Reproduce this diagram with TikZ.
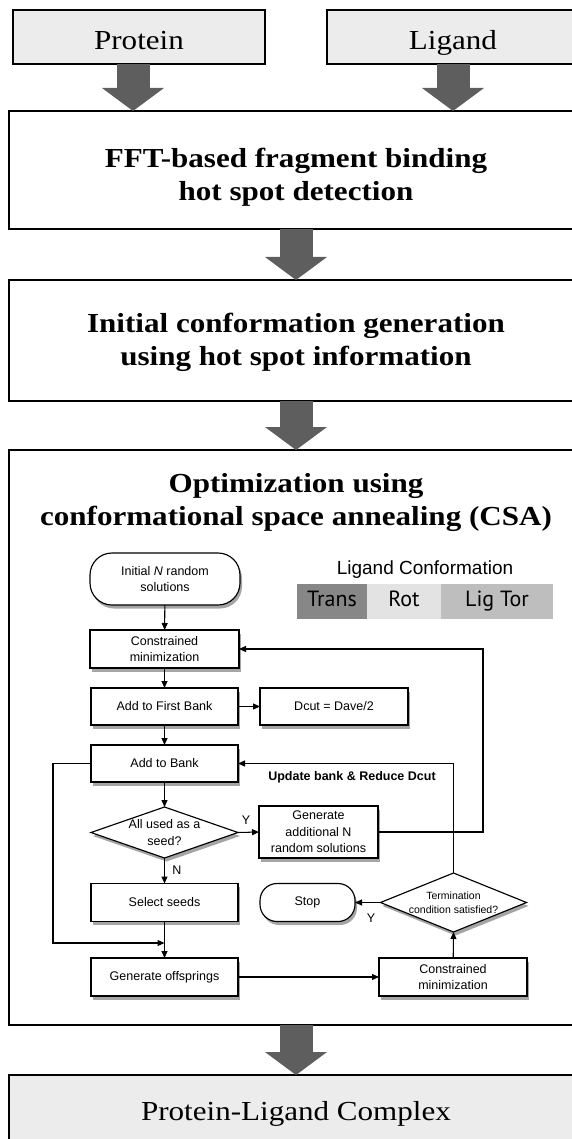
\documentclass[tikz,border=0pt]{standalone}
\usepackage{fontspec}
\usetikzlibrary{arrows.meta,shadows}
\newfontfamily\tnr[FakeStretch=1.13]{Liberation Serif}
\newfontfamily\arl{Liberation Sans}
\newfontfamily\pts{PT Sans}
\definecolor{boxgray}{HTML}{ECECEC}
\definecolor{arrowgray}{HTML}{5E5E5E}
\definecolor{transc}{HTML}{878787}
\definecolor{rotc}{HTML}{E3E3E3}
\definecolor{ligtorc}{HTML}{BEBEBE}
\begin{document}
\begin{tikzpicture}[x=1pt,y=-1pt,
  mainbox/.style={draw, line width=1.4pt, inner sep=0pt, outer sep=0pt, align=center},
  bigtext/.style={font=\tnr\fontsize{27.5}{33}\selectfont\bfseries, align=center},
  plaintext/.style={font=\tnr\fontsize{27.5}{33}\selectfont, align=center, text height=32pt, text depth=6pt},
  bigarrow/.style={draw=arrowgray, line width=33pt, -{Triangle[length=23pt,width=62pt,line width=0pt]}},
  fcshape/.style={draw, line width=1.15pt, fill=white, drop shadow={shadow xshift=2pt, shadow yshift=-3.5pt, opacity=0.7}},
  fcbox/.style={fcshape, inner sep=0pt, outer sep=0pt, align=center, font=\arl\fontsize{12.5}{16.5}\selectfont},
  fctext/.style={inner sep=0pt, outer sep=0pt, align=center, font=\arl\fontsize{12.5}{16.5}\selectfont},
  fcarrow/.style={line width=1.05pt, -{Triangle[length=7pt,width=6pt]}},
  barseg/.style={inner sep=0pt, outer sep=0pt, minimum height=35pt, text height=15pt, text depth=5pt, font=\pts\fontsize{22}{24}\selectfont}
]
\useasboundingbox (0,0) rectangle (572,1139);
\clip (0,0) rectangle (572,1139);

% ---------- main boxes ----------
\node[mainbox, fill=boxgray, minimum width=252pt, minimum height=54pt, plaintext] (protein) at (139,37) {Protein};
\node[mainbox, fill=boxgray, minimum width=252pt, minimum height=54pt, plaintext] (ligand) at (453,37) {Ligand};
\node[mainbox, fill=white, minimum width=574pt, minimum height=118pt] (fft) at (296,170) {};
\node[bigtext] (ffttext) at (296,177) {FFT-based fragment binding\\hot spot detection};
\node[mainbox, fill=white, minimum width=574pt, minimum height=121pt] (init) at (296,340.5) {};
\node[bigtext] (inittext) at (296,342) {Initial conformation generation\\using hot spot information};
\node[mainbox, fill=white, minimum width=574pt, minimum height=575pt] (opt) at (296,737.5) {};
\node[bigtext] (opttext) at (296,502) {Optimization using\\conformational space annealing (CSA)};
\node[mainbox, fill=boxgray, minimum width=574pt, minimum height=80pt] (final) at (296,1115) {};
\node[font=\tnr\fontsize{27.5}{33}\selectfont, text height=19pt, text depth=6pt] (finaltext) at (296,1113.5) {Protein-Ligand Complex};

% ---------- big arrows ----------
\draw[bigarrow] ([xshift=-6pt]protein.south) -- ([xshift=-6pt]protein.south |- fft.north);
\draw[bigarrow] (ligand.south) -- (ligand.south |- fft.north);
\draw[bigarrow] (fft.south) -- (init.north);
\draw[bigarrow] (init.south) -- (opt.north);
\draw[bigarrow] (opt.south) -- (final.north);

% ---------- ligand conformation ----------
\node[font=\arl\fontsize{19}{22}\selectfont, inner sep=0pt] (lctitle) at (425,570) {Ligand Conformation};
\node[barseg, fill=transc, minimum width=70pt] (trans) at (332,601.5) {Trans};
\node[barseg, fill=rotc, minimum width=74pt] (rot) at (404,601.5) {Rot};
\node[barseg, fill=ligtorc, minimum width=112pt] (ligtor) at (497,601.5) {Lig Tor};

% ---------- flowchart nodes ----------
\node[fcbox, rounded corners=22pt, minimum width=150pt, minimum height=52pt] (initN) at (165,579) {Initial \textit{N} random\\solutions};
\node[fcbox, minimum width=149pt, minimum height=38pt] (cm1) at (164.5,649) {Constrained\\minimization};
\node[fcbox, minimum width=147pt, minimum height=37pt] (afb) at (164.5,706.5) {Add to First Bank};
\node[fcbox, minimum width=148pt, minimum height=37pt] (dcut) at (334,706.5) {Dcut = Dave/2};
\node[fcbox, minimum width=147pt, minimum height=37pt] (atb) at (164.5,763.5) {Add to Bank};
\node[fctext, minimum width=147pt, minimum height=51pt] (d1) at (164.5,832.5) {};
\draw[fcshape] (d1.north) -- (d1.east) -- (d1.south) -- (d1.west) -- cycle;
\node[fctext] (d1text) at (164.5,832.5) {All used as a\\seed?};
\node[fcbox, minimum width=119pt, minimum height=52pt] (gen) at (318.5,832) {Generate\\additional N\\random solutions};
\node[fcbox, minimum width=147pt, minimum height=38pt] (sel) at (164.5,902.5) {Select seeds};
\node[fcbox, rounded corners=17pt, minimum width=95pt, minimum height=38pt] (stop) at (307.5,902.5) {Stop};
\node[fctext, minimum width=146pt, minimum height=59pt] (term) at (453.5,902.5) {};
\draw[fcshape] (term.north) -- (term.east) -- (term.south) -- (term.west) -- cycle;
\node[fctext, font=\arl\fontsize{10.5}{14}\selectfont] (termtext) at (453.5,902.5) {Termination\\condition satisfied?};
\node[fcbox, minimum width=147pt, minimum height=38pt] (off) at (164.5,977) {Generate offsprings};
\node[fcbox, minimum width=148pt, minimum height=38pt] (cm2) at (453,977) {Constrained\\minimization};

% ---------- flowchart connectors ----------
\coordinate (rloop) at (483,700);
\coordinate (lloop) at (53,943);
\coordinate (join) at (164.5,943);
\draw[fcarrow] (initN) -- (cm1);
\draw[fcarrow] (cm1) -- (afb);
\draw[fcarrow] (afb) -- (dcut);
\draw[fcarrow] (afb) -- (atb);
\draw[fcarrow] (atb) -- (d1.north);
\draw[fcarrow] (d1.east) -- (gen.west);
\draw[fcarrow] (d1.south) -- (sel.north);
\draw[fcarrow] (sel) -- (off);
\draw[fcarrow] (off) -- (cm2);
\draw[fcarrow] (cm2) -- (term.south);
\draw[fcarrow] (term.west) -- (stop.east);
\draw[fcarrow] (term.north) |- (atb.east);
\draw[fcarrow] (gen.east) -- (gen.east -| rloop) |- (cm1.east);
\draw[fcarrow] (atb.west) -| (lloop) -- (join);

% ---------- labels ----------
\node[fctext] (ylab1) at (246,820) {Y};
\node[fctext] (nlab) at (177,870) {N};
\node[fctext] (ylab2) at (371,918) {Y};
\node[fctext, font=\arl\bfseries\fontsize{12.5}{16}\selectfont] (updlab) at (352,777) {Update bank \& Reduce Dcut};
\end{tikzpicture}
\end{document}
